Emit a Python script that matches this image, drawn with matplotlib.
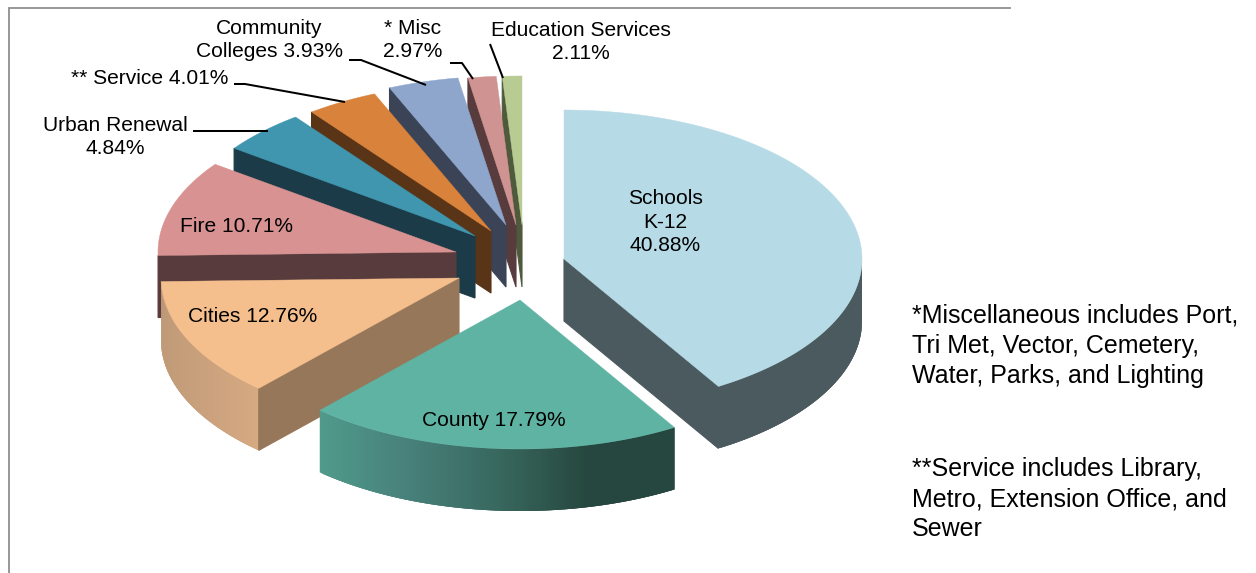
import numpy as np
import matplotlib
matplotlib.use("Agg")
import matplotlib.pyplot as plt
from matplotlib.collections import PolyCollection
from matplotlib.colors import to_rgb

plt.rcParams["font.family"] = ["Liberation Sans", "DejaVu Sans"]

# Property tax shares, clockwise from twelve o'clock
names = ["Schools", "County", "Cities", "Fire", "Urban Renewal",
         "** Service", "Community", "* Misc", "Education Services"]
shares = [40.88, 17.79, 12.76, 10.71, 4.84, 4.01, 3.93, 2.97, 2.11]

note_misc = "*Miscellaneous includes Port,\nTri Met, Vector, Cemetery,\nWater, Parks, and Lighting"
note_service = "**Service includes Library,\nMetro, Extension Office, and\nSewer"

# Per-slice colours: top surface and radial cut face
top_colors = ["#b6dbe6", "#5fb3a3", "#f5bf8d", "#d79291", "#3f96ae",
              "#d9823b", "#8fa6cc", "#cf9491", "#b7cb93"]
face_colors = ["#4b5a5f", "#26473f", "#97775a", "#573b3d", "#1a3b47",
               "#5a3417", "#3a4456", "#573b3d", "#4f5a3d"]
# Outer wall shading, left to right along the arc
wall_stops = [["#4b5a5f", "#4b5a5f"],
              ["#509a8b", "#47807a", "#38685e", "#26473f", "#26473f"],
              ["#c09a78", "#d6aa82"],
              ["#573b3d", "#573b3d"], ["#1a3b47", "#1a3b47"],
              ["#5a3417", "#5a3417"], ["#3a4456", "#3a4456"],
              ["#573b3d", "#573b3d"], ["#4f5a3d", "#4f5a3d"]]

# Layout of the tilted, exploded disc in pixels
RX, RY, DEPTH = 298.0, 149.0, 62.0
apex_x = [564, 520, 459, 456, 475, 491, 506, 516, 522]
apex_y = [259, 300, 278, 252, 236, 231, 225, 225, 225]
# Foreshortening of the tilted view: near side opens up, far side closes
VIEW_IN = [0, 147, 211, 257, 342, 360]
VIEW_OUT = [0, 148.6, 222, 268.5, 351, 360]

fig = plt.figure(figsize=(12.56, 5.73), dpi=100, facecolor="white")
ax = fig.add_axes([0, 0, 1, 1])
ax.set_xlim(0, 1256)
ax.set_ylim(573, 0)
ax.axis("off")

# Chart frame, open on the right and at the bottom
ax.plot([8.5, 8.5, 1010], [573, 8, 8], color="#8f8f8f", lw=1.3,
        solid_joinstyle="miter")


def rim(cx, cy, deg):
    rad = np.radians(deg)
    return cx + RX * np.sin(rad), cy - RY * np.cos(rad)


def draw_slice(i, start, end, z):
    cx, cy = apex_x[i], apex_y[i]
    # Outer wall on the near half of the disc
    lo, hi = max(start, 90), min(end, 270)
    if hi > lo:
        t = np.linspace(lo, hi, 160)
        xs, ys = rim(cx, cy, t)
        # Paint left to right with each strip overlapping the next, hiding seams
        idx = np.argsort(xs)
        xs, ys = xs[idx], ys[idx]
        stops = np.array([to_rgb(c) for c in wall_stops[i]])
        pos = np.linspace(0, 1, len(stops))
        frac = (xs - xs.min()) / max(np.ptp(xs), 1)
        strips, cols = [], []
        for k in range(len(t) - 1):
            j = min(k + 3, len(t) - 1)
            top_x, top_y = xs[k:j + 1], ys[k:j + 1]
            strips.append(np.c_[np.r_[top_x, top_x[::-1]],
                                np.r_[top_y, top_y[::-1] + DEPTH]])
            cols.append([np.interp(frac[k], pos, stops[:, c]) for c in range(3)])
        ax.add_collection(PolyCollection(strips, facecolors=cols, edgecolors="none",
                                         linewidths=0, zorder=z))
    # Radial cut faces that turn towards the viewer, laid over the wall's end
    for edge, visible in ((start, np.sin(np.radians(start)) < 0),
                          (end, np.sin(np.radians(end)) > 0)):
        if visible:
            x, y = rim(cx, cy, edge)
            ax.fill([cx, x, x, cx], [cy, y, y + DEPTH, cy + DEPTH],
                    color=face_colors[i], lw=0.8, zorder=z + 0.1)
    # Top surface
    t = np.linspace(start, end, 120)
    xs, ys = rim(cx, cy, t)
    ax.fill(np.r_[cx, xs], np.r_[cy, ys], color=top_colors[i], lw=0.3, zorder=z + 0.2)


edges = np.r_[0, np.cumsum(shares)] / np.sum(shares) * 360
view = np.interp(edges, VIEW_IN, VIEW_OUT)
# Far slices first so the nearer ones overlap them
order = [8, 7, 6, 5, 4, 3, 2, 1, 0]
for z, i in enumerate(order):
    draw_slice(i, view[i], view[i + 1], z + 2)

# Leader lines from the outer labels
leaders = [([193, 268], [131, 131]),
           ([234, 245, 345], [84, 84, 102]),
           ([349, 361, 426], [60, 60, 85]),
           ([450, 462, 473], [63, 63, 79]),
           ([490, 503], [44, 78])]
for lx, ly in leaders:
    ax.plot(lx, ly, color="black", lw=1.45, zorder=20, solid_capstyle="butt")

LABEL = 15.1
text_kw = dict(ha="center", va="center", fontsize=LABEL, color="black",
               zorder=21, linespacing=1.32)
ax.text(665, 222, f"{names[0]}\nK-12\n{shares[0]:.2f}%", **text_kw)
ax.text(494, 420, f"{names[1]} {shares[1]:.2f}%", **text_kw)
ax.text(253, 316, f"{names[2]} {shares[2]:.2f}%", **text_kw)
ax.text(236, 227, f"{names[3]} {shares[3]:.2f}%", **text_kw)
ax.text(115, 137, f"{names[4]}\n{shares[4]:.2f}%", **text_kw)
ax.text(150, 78, f"{names[5]} {shares[5]:.2f}%", **text_kw)
ax.text(269, 40, f"{names[6]}\nColleges {shares[6]:.2f}%", **text_kw)
ax.text(413, 40, f"{names[7]}\n{shares[7]:.2f}%", **text_kw)
ax.text(581, 42, f"{names[8]}\n{shares[8]:.2f}%", **text_kw)

note_kw = dict(ha="left", va="center", fontsize=18.0, color="black",
               zorder=21, linespacing=1.33)
ax.text(912, 346, note_misc, **note_kw)
ax.text(912, 499, note_service, **note_kw)

fig.savefig("out.png", dpi=100, facecolor="white")
